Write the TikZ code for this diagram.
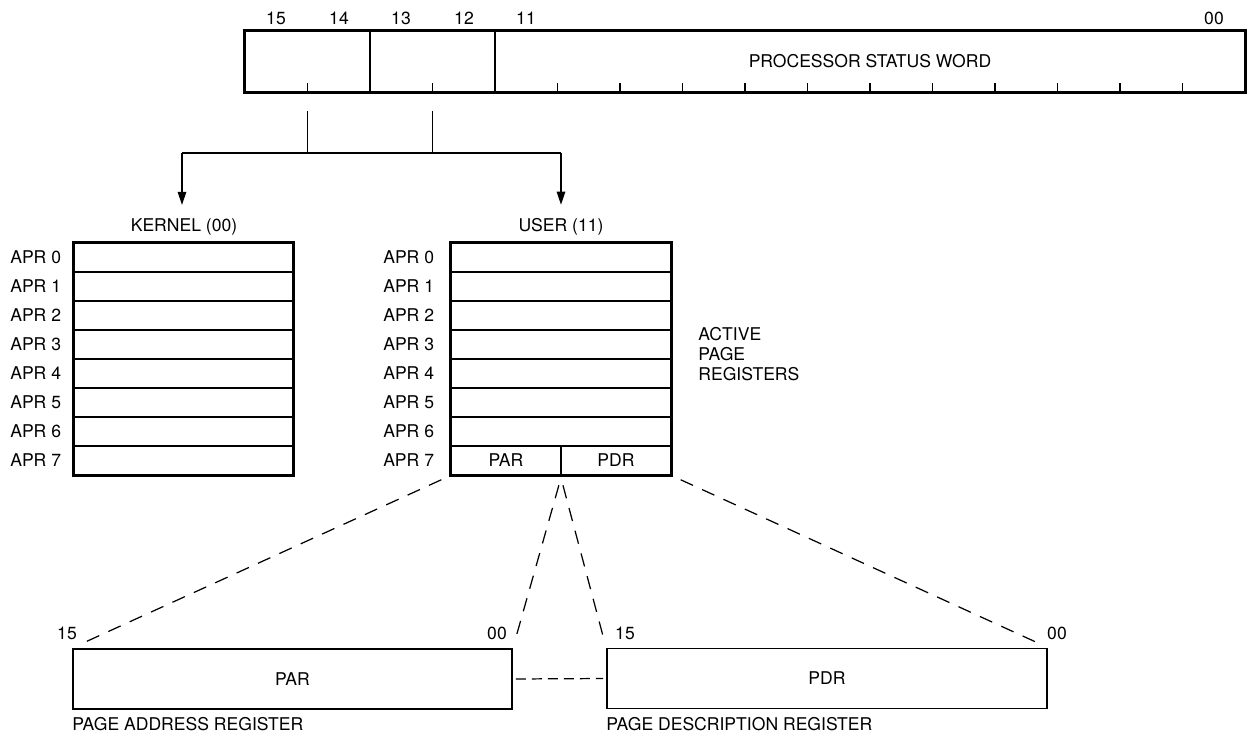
\documentclass[tikz,border=0pt]{standalone}
\usepackage{fontspec}
\setmainfont{TeX Gyre Heros}
\usetikzlibrary{positioning,arrows.meta}

\tikzset{
  reg/.style={draw, line width=1.1pt, minimum height=1.22cm, inner sep=0pt},
  aprow/.style={draw, line width=0.7pt, minimum height=0.58cm, inner sep=0pt},
  lbl/.style={inner sep=0pt},
  link/.style={line width=0.7pt, dash pattern=on 0.27cm off 0.2cm, shorten <=0.2cm, shorten >=0.25cm},
}

\begin{document}
\begin{tikzpicture}[x=0.02cm, y=-0.02cm, font=\fontsize{10}{11.4}\selectfont]
		\useasboundingbox (0,0) rectangle (1252,734);
		%Processor status word, mode fields
		\node[reg, minimum width=2.5cm] (cm) at (307.5,61.5) {};
		\node[reg, minimum width=2.5cm] (pm) at (432.5,61.5) {};
		\node[reg, minimum width=15cm] (psw) at (870,61.5) {PROCESSOR STATUS WORD};
		\draw[line width=1.2pt] (cm.north west) rectangle (psw.south east);
		\foreach \k in {1,...,11}
		\draw[line width=0.7pt] (495+62.5*\k,92) -- ++(0,-9);
		\draw[line width=0.7pt] (cm.south) -- ++(0,-10);
		\draw[line width=0.7pt] (pm.south) -- ++(0,-10);
		\foreach \b/\x in {15/276,14/339,13/401,12/464,11/526,00/1214}
		\node[lbl] (b\b) at (\x,18) {\b};
		%Mode select
		\coordinate (jk) at (182,153);
		\coordinate (ju) at (561,153);
		\node[lbl] (kl) at (184,227) {KERNEL (00)};
		\node[lbl] (ul) at (561,227) {USER (11)};
		\draw[line width=0.7pt, shorten <=0.36cm] (cm.south) -- (cm.south |- jk);
		\draw[line width=0.7pt, shorten <=0.36cm] (pm.south) -- (pm.south |- jk);
		\draw[line width=0.7pt] (jk) -- (ju);
		\draw[line width=0.7pt, -{Triangle[length=0.26cm,width=0.17cm]}, shorten >=0.27cm] (jk) -- (jk |- kl.north);
		\draw[line width=0.7pt, -{Triangle[length=0.26cm,width=0.17cm]}, shorten >=0.27cm] (ju) -- (ul.north);
		%Kernel APRs
		\foreach \i in {0,...,7}{
		\node[aprow, minimum width=4.38cm] (k\i) at (183.5,257.5+29*\i) {};
		\node[lbl, left=0.24cm of k\i] (kn\i) {APR \i};
		}
		\draw[line width=1.2pt] (k0.north west) rectangle (k7.south east);
		%User APRs
		\foreach \i in {0,...,6}{
		\node[aprow, minimum width=4.4cm] (u\i) at (561,257.5+29*\i) {};
		\node[lbl, left=0.32cm of u\i] (un\i) {APR \i};
		}
		\node[aprow, minimum width=2.2cm] (par7) at (506,460.5) {PAR};
		\node[aprow, minimum width=2.2cm] (pdr7) at (616,460.5) {PDR};
		\node[lbl, left=0.32cm of par7] (un7) {APR 7};
		\draw[line width=1.2pt] (u0.north west) rectangle (pdr7.south east);
		\node[lbl, align=left, anchor=west] (act) at (698,354) {ACTIVE\\PAGE\\REGISTERS};
		%Page address and description registers
		\node[reg, minimum width=8.78cm, minimum height=1.2cm] (par) at (292.5,679) {PAR};
		\node[reg, minimum width=8.8cm, minimum height=1.2cm] (pdr) at (827,678.5) {PDR};
		\node[lbl, anchor=north west] (parname) at ([yshift=-0.15cm]par.south west) {PAGE ADDRESS REGISTER};
		\node[lbl, anchor=north west] (pdrname) at ([yshift=-0.15cm]pdr.south west) {PAGE DESCRIPTION REGISTER};
		\node[lbl] (pa15) at (67,633) {15};
		\node[lbl] (pa00) at (497,633) {00};
		\node[lbl] (pd15) at (625,633) {15};
		\node[lbl] (pd00) at (1057,633) {00};
		\draw[link] (par7.south west) -- (par.north west);
		\draw[link] (par7.south east) -- (par.north east);
		\draw[link] (pdr7.south west) -- (pdr.north west);
		\draw[link] (pdr7.south east) -- (pdr.north east);
		\draw[line width=0.7pt, dash pattern=on 0.2cm off 0.12cm, shorten <=0.06cm, shorten >=0.06cm] (par.east) -- (pdr.west);
\end{tikzpicture}
\end{document}
